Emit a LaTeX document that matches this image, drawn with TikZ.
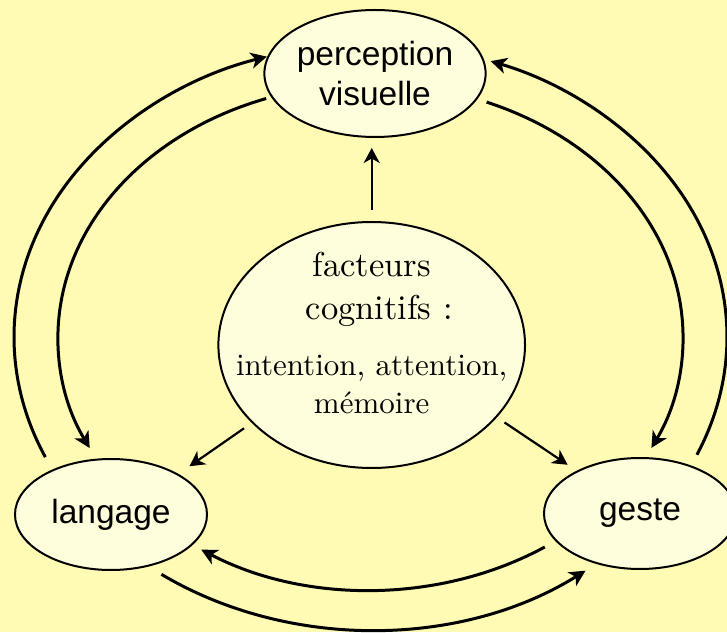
\documentclass[tikz,border=0pt]{standalone}
\usepackage{fontspec}
\newfontfamily\labelsans{Liberation Sans}
\newfontfamily\cogserif{lmroman10-regular.otf}
\usetikzlibrary{shapes.geometric,arrows.meta,calc}
\definecolor{paper}{RGB}{255,250,180}
\definecolor{bubble}{RGB}{255,254,220}
\newcommand\bigserif{\cogserif\fontsize{34.5}{43}\selectfont}
\newcommand\smallserif{\cogserif\fontsize{31}{43}\selectfont}
\begin{document}
\begin{tikzpicture}[x=1pt,y=1pt,
  bubblebox/.style={ellipse, draw=black, line width=2pt, fill=bubble,
    inner sep=0pt, outer sep=0pt, align=center},
  sanslabel/.style={font=\labelsans\fontsize{33.5}{40}\selectfont},
  cycleflow/.style={line width=3pt, -{Stealth[length=16pt,width=16pt,inset=4.5pt]}},
  influence/.style={line width=2.2pt, -{Stealth[length=15pt,width=16pt,inset=4.5pt]}}]
% page and its margins
\fill[paper] (0,0) rectangle (727,632);
\useasboundingbox (0,0) rectangle (727,632);

% the four bubbles
\node[bubblebox, sanslabel, minimum width=205pt, minimum height=127pt] (perc)
  at (375,558.5) {perception\\visuelle};
% the text block is set at zero size so that the ellipse keeps its own size;
% the last baseline sits 68pt below the centre
\node[bubblebox, minimum width=306.6pt, minimum height=246pt] (cog) at (371.7,287)
  {\smash{\makebox[0pt]{\raisebox{-68pt}{\bigserif
    \begin{tabular}[b]{@{}c@{}}
      \bigserif facteurs\\
      \bigserif\hspace*{15pt}cognitifs :\\[12pt]
      \smallserif intention, attention,\\[-5pt]
      \smallserif m\'emoire
    \end{tabular}}}}};
\node[bubblebox, sanslabel, minimum width=192pt, minimum height=111pt] (lang)
  at (111,117.5) {langage};
\node[bubblebox, sanslabel, minimum width=192pt, minimum height=111pt] (geste)
  at (640,118.5) {geste};

% cognitive factors act on the three activities
\draw[influence, shorten <=12pt, shorten >=11pt] (cog.north) -- (cog.north |- perc.south);
\draw[influence, shorten <=10.3pt, shorten >=14.5pt] (cog.213) -- (lang.31);
\draw[influence, shorten <=10.1pt, shorten >=11.9pt] (cog.-30.5) -- (geste.146.4);

% the two rings of exchanges between the activities
\coordinate (ring) at (370.5,295);
\coordinate (lang-out)  at ($(ring)+(204.2:356.5 and 293)$);
\coordinate (geste-out) at ($(ring)+(-23.7:356.5 and 293)$);
\coordinate (lang-low)  at ($(ring)+(234.1:356.5 and 293)$);
\coordinate (perc-left)  at ($(ring)+(109.5:312.5 and 253)$);
\coordinate (perc-right) at ($(ring)+(68.2:312.5 and 253)$);
\coordinate (geste-low)  at ($(ring)+(303.9:312.5 and 253)$);

\draw[cycleflow] (lang-out)  arc[start angle=204.2, end angle=106.9, x radius=356.5pt, y radius=293pt];
\draw[cycleflow] (geste-out) arc[start angle=-23.7, end angle=70.3, x radius=356.5pt, y radius=293pt];
\draw[cycleflow] (lang-low)  arc[start angle=234.1, end angle=307.1, x radius=356.5pt, y radius=293pt];
\draw[cycleflow] (perc-left)  arc[start angle=109.5, end angle=206.05, x radius=312.5pt, y radius=253pt];
\draw[cycleflow] (perc-right) arc[start angle=68.2, end angle=-26, x radius=312.5pt, y radius=253pt];
\draw[cycleflow] (geste-low)  arc[start angle=303.9, end angle=237.2, x radius=312.5pt, y radius=253pt];
\end{tikzpicture}
\end{document}
